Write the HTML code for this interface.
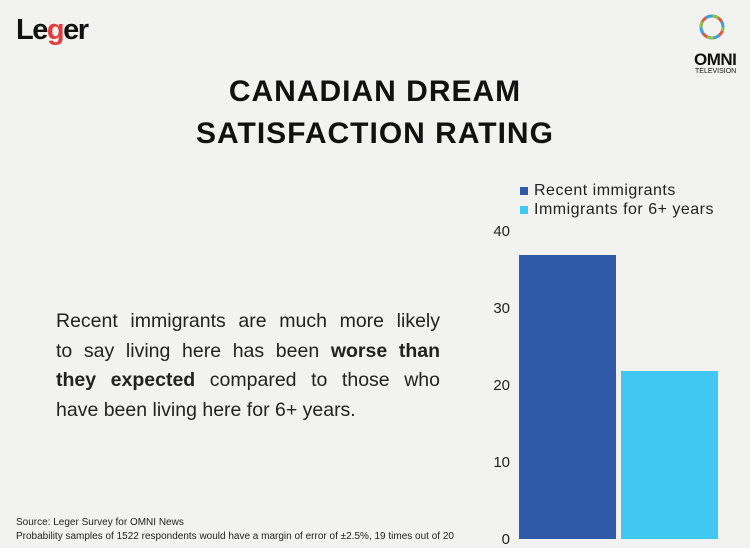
<!DOCTYPE html>
<html><head><meta charset="utf-8"><style>
body{margin:0;width:750px;height:546px;background:#f2f2f0;position:relative;overflow:hidden;font-family:"Liberation Sans",sans-serif;color:#111}
.a{position:absolute;white-space:nowrap}
.t{font-weight:900;font-size:30px;letter-spacing:1px;left:0;width:750px;text-align:center}
.y{font-size:15px;color:#222;right:240px;text-align:right}
.p div{text-align:justify;text-align-last:justify;height:29.5px}
.lg{font-size:16px;color:#222;letter-spacing:0.5px}
</style></head><body>
<div class="a" style="left:16px;top:14px;font-size:29px;font-weight:bold;letter-spacing:-1.5px">Le<span style="color:#e63a3a">g</span>er</div>
<svg class="a" style="left:698px;top:8px" width="28" height="38" viewBox="0 0 28 38">
<circle cx="14" cy="19" r="11" fill="none" stroke="#e05a3a" stroke-width="3" stroke-dasharray="12 6"/>
<circle cx="14" cy="19" r="11" fill="none" stroke="#3aa0e0" stroke-width="3" stroke-dasharray="10 8" stroke-dashoffset="9"/>
<circle cx="14" cy="19" r="11" fill="none" stroke="#8bc34a" stroke-width="3" stroke-dasharray="6 12" stroke-dashoffset="20"/>
</svg>
<div class="a" style="left:694px;top:50px;font-size:17px;font-weight:bold;letter-spacing:-0.5px">OMNI</div>
<div class="a" style="left:695px;top:68px;font-size:7px">TELEVISION</div>
<div class="a t" style="top:75px">CANADIAN DREAM</div>
<div class="a t" style="top:117px">SATISFACTION RATING</div>
<div class="a p" style="left:56px;top:307px;font-size:19.5px;line-height:29.5px;color:#222;width:384px">
<div>Recent immigrants are much more likely</div>
<div>to say living here has been <b>worse than</b></div>
<div><b>they expected</b> compared to those who</div>
<div style="text-align-last:left">have been living here for 6+ years.</div>
</div>
<div class="a" style="left:16px;top:517px;font-size:10px;color:#222">Source: Leger Survey for OMNI News</div>
<div class="a" style="left:16px;top:531px;font-size:10px;color:#222">Probability samples of 1522 respondents would have a margin of error of ±2.5%, 19 times out of 20</div>
<div class="a" style="left:520px;top:187px;width:8px;height:8px;background:#3059a8"></div>
<div class="a" style="left:520px;top:206px;width:8px;height:8px;background:#40c8f2"></div>
<div class="a lg" style="left:534px;top:182px">Recent immigrants</div>
<div class="a lg" style="left:534px;top:201px">Immigrants for 6+ years</div>
<div class="a y" style="top:223px">40</div>
<div class="a y" style="top:300px">30</div>
<div class="a y" style="top:377px">20</div>
<div class="a y" style="top:454px">10</div>
<div class="a y" style="top:531px">0</div>
<div class="a" style="left:519px;top:255px;width:97px;height:284px;background:#3059a8"></div>
<div class="a" style="left:621px;top:371px;width:97px;height:168px;background:#40c8f2"></div>
</body></html>
